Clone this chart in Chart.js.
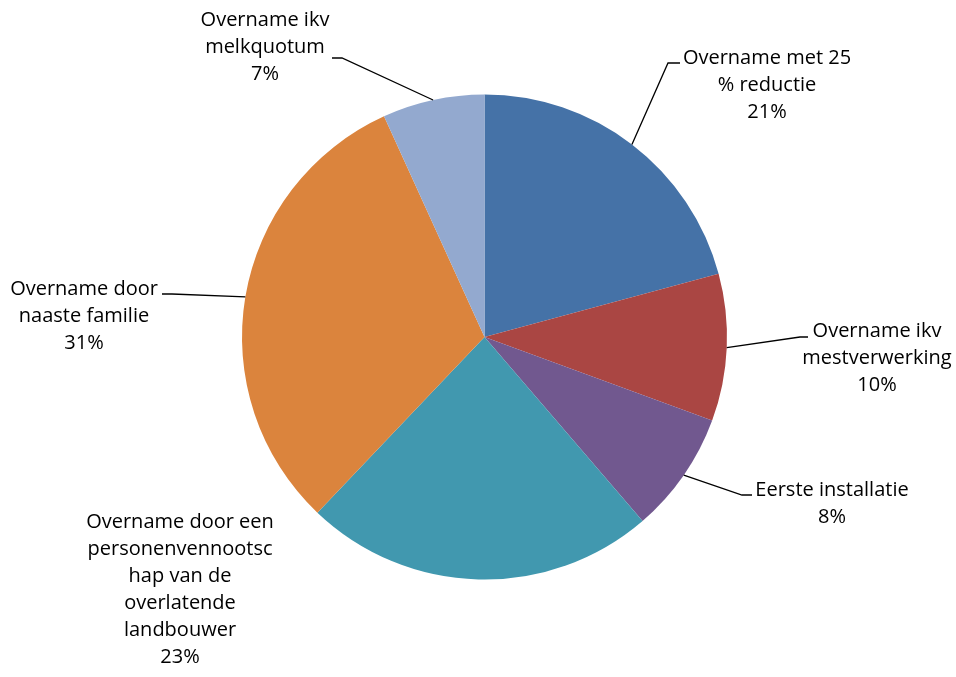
<!DOCTYPE html>
<html>
<head>
<meta charset="utf-8">
<script src="https://cdn.jsdelivr.net/npm/chart.js@4/dist/chart.umd.min.js"></script>
<style>
  html, body { margin: 0; padding: 0; background: #fff; }
  #wrap { width: 956px; height: 677px; position: relative; }
</style>
</head>
<body>
<div id="wrap"><canvas id="pie"></canvas></div>
<script>
// slices, clockwise from 12 o'clock
const categories = [
    ['Overname met 25', '% reductie'],
    ['Overname ikv', 'mestverwerking'],
    ['Eerste installatie'],
    ['Overname door een', 'personenvennootsc', 'hap van de', 'overlatende', 'landbouwer'],
    ['Overname door', 'naaste familie'],
    ['Overname ikv', 'melkquotum']
];
const shares = [20.8, 9.8, 8.1, 23.4, 31.1, 6.8];
const colors = ['#4572A7', '#AA4643', '#71588F', '#4198AF', '#DB843D', '#93A9CF'];

// where each label sits: text centre x, first line y, and the leader elbow (null = no leader)
const labelLayout = [
    { x: 767, y: 58, elbow: [668, 63], stub: 12 },
    { x: 877, y: 331, elbow: [800, 337], stub: 8 },
    { x: 832, y: 490, elbow: [742, 495], stub: 10 },
    { x: 180, y: 522, elbow: null },
    { x: 84, y: 289, elbow: [172, 294], stub: -10 },
    { x: 265, y: 20, elbow: [342, 58], stub: -10 }
];

const FONT = '20px "Open Sans", Lato, sans-serif';
const LINE_H = 27;

const pieLabels = {
    id: 'pieLabels',
    afterDatasetsDraw(chart) {
        const ctx = chart.ctx;
        const meta = chart.getDatasetMeta(0);
        const total = shares.reduce((a, b) => a + b, 0);
        ctx.save();
        meta.data.forEach((arc, i) => {
            const lay = labelLayout[i];
            const p = arc.getProps(['x', 'y', 'startAngle', 'endAngle', 'outerRadius'], true);
            const mid = (p.startAngle + p.endAngle) / 2;
            const ax = p.x + Math.cos(mid) * p.outerRadius;
            const ay = p.y + Math.sin(mid) * p.outerRadius;

            if (lay.elbow) {
                ctx.strokeStyle = '#000';
                ctx.lineWidth = 1.3;
                ctx.beginPath();
                ctx.moveTo(ax, ay);
                ctx.lineTo(lay.elbow[0], lay.elbow[1]);
                ctx.lineTo(lay.elbow[0] + lay.stub, lay.elbow[1]);
                ctx.stroke();
            }

            const lines = categories[i].concat([Math.round(shares[i] / total * 100) + '%']);
            ctx.font = FONT;
            ctx.fillStyle = '#000';
            ctx.textAlign = 'center';
            ctx.textBaseline = 'middle';
            lines.forEach((t, k) => ctx.fillText(t, lay.x, lay.y + k * LINE_H));
        });
        ctx.restore();
    }
};

new Chart(document.getElementById('pie'), {
    type: 'pie',
    data: {
        labels: categories,
        datasets: [{
            data: shares,
            backgroundColor: colors,
            borderWidth: 0
        }]
    },
    options: {
        responsive: true,
        maintainAspectRatio: false,
        animation: false,
        rotation: 0,
        layout: { padding: { top: 94, bottom: 97, left: 242, right: 229 } },
        plugins: {
            legend: { display: false },
            tooltip: { enabled: false }
        }
    },
    plugins: [pieLabels]
});
</script>
</body>
</html>
